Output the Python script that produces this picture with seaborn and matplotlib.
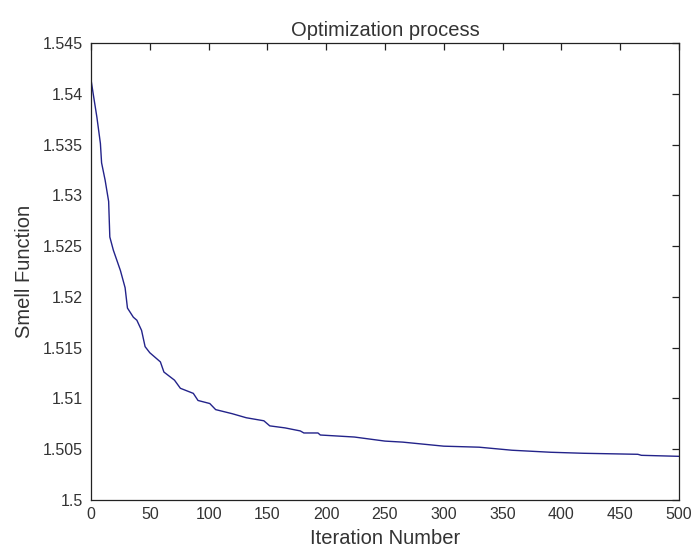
import numpy as np
import pandas as pd
import seaborn as sns
import matplotlib
matplotlib.use("Agg")
import matplotlib.pyplot as plt
from matplotlib.ticker import FormatStrFormatter

# values
iteration = [0, 2, 5, 8, 9, 12, 15, 16, 19, 25, 29, 31, 36, 39, 43, 46, 50, 59,
             62, 71, 76, 87, 91, 101, 106, 120, 132, 147, 152, 165, 178, 181,
             193, 195, 224, 250, 265, 300, 330, 358, 391, 419, 465, 468, 500]
smell = [1.5414, 1.5399, 1.5377, 1.5351, 1.5332, 1.5315, 1.5294, 1.5259,
         1.5246, 1.5226, 1.5209, 1.5189, 1.5180, 1.5177, 1.5167, 1.5151,
         1.5145, 1.5136, 1.5126, 1.5118, 1.5110, 1.5105, 1.5098, 1.5095,
         1.5089, 1.5085, 1.5081, 1.5078, 1.5073, 1.5071, 1.5068, 1.5066,
         1.5066, 1.5064, 1.5062, 1.5058, 1.5057, 1.5053, 1.5052, 1.5049,
         1.5047, 1.5046, 1.5045, 1.5044, 1.5043]

x_ticks = [0, 50, 100, 150, 200, 250, 300, 350, 400, 450, 500]
y_ticks = [1.5, 1.505, 1.51, 1.515, 1.52, 1.525, 1.53, 1.535, 1.54, 1.545]

df = pd.DataFrame({"iter": iteration, "smell": smell})

sns.set_style("white")
plt.rcParams['font.family'] = ['Liberation Sans', 'DejaVu Sans']

fig = plt.figure(figsize=(6.94, 5.54), dpi=100)
ax = fig.add_axes([91 / 694, 1 - 500 / 554, 588 / 694, 457 / 554])

sns.lineplot(data=df, x="iter", y="smell", color="#23238a", linewidth=1.0, ax=ax)

ax.set_xlim(0, 500)
ax.set_ylim(1.5, 1.545)
ax.set_xticks(x_ticks)
ax.set_yticks(y_ticks)
ax.yaxis.set_major_formatter(FormatStrFormatter('%g'))
ax.tick_params(direction='in', length=5, width=0.9, colors='#222222',
               labelsize=11.5, top=True, right=True, labelcolor='#333333')
ax.tick_params(axis='x', pad=5)
ax.tick_params(axis='y', pad=6)
for s in ax.spines.values():
    s.set_color('#222222')
    s.set_linewidth(0.9)

ax.set_xlabel("Iteration Number", fontsize=14.5, color='#333333', labelpad=5)
ax.set_ylabel("Smell Function", fontsize=14.5, color='#333333', labelpad=6)
ax.set_title("Optimization process", fontsize=14.5, color='#333333', pad=5)

fig.savefig("out.png", dpi=100, facecolor='white')
